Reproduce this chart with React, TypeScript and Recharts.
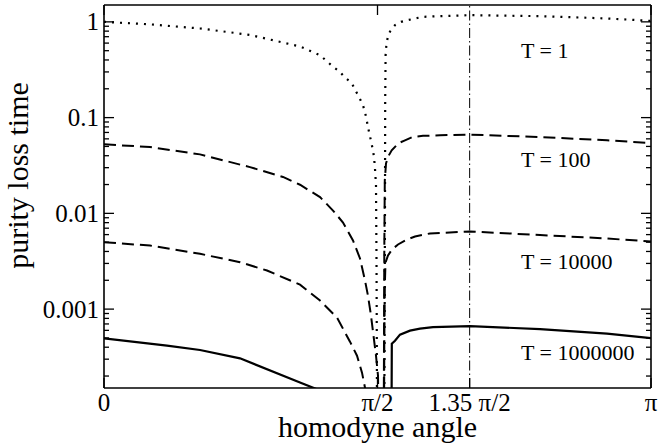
import React from "react";
import {
  ComposedChart,
  Line,
  Scatter,
  XAxis,
  YAxis,
  ReferenceLine,
  Label,
} from "recharts";

// ---- x axis (homodyne angle, radians) ----
const xTicks = [0, Math.PI / 2, 2.1, Math.PI];
const xTickLabels = ["0", "π/2", "1.35 π/2", "π"];
const xTopTicks = [0, Math.PI / 2, Math.PI];

// ---- y axis (log) ----
const yMajorTicks = [0.001, 0.01, 0.1, 1];
const yMajorLabels = ["0.001", "0.01", "0.1", "1"];
const yMinorTicks = [
  0.0002, 0.0003, 0.0004, 0.0005, 0.0006, 0.0007, 0.0008, 0.0009,
  0.002, 0.003, 0.004, 0.005, 0.006, 0.007, 0.008, 0.009,
  0.02, 0.03, 0.04, 0.05, 0.06, 0.07, 0.08, 0.09,
  0.2, 0.3, 0.4, 0.5, 0.6, 0.7, 0.8, 0.9,
];
const yDomain = [0.00015, 1.5];

// ---- T = 1 (dotted) ----
const t1Theta = [
  0, 0.2642, 0.5514, 0.8385, 1.1257, 1.2406, 1.3169, 1.3514, 1.3841, 1.4226,
  1.4416, 1.4663, 1.4858, 1.499, 1.5088, 1.518, 1.5277, 1.5375, 1.5467, 1.5524,
  1.5564, 1.5622, 1.5651, 1.5668, 1.5708, 1.6099, 1.6116, 1.6139, 1.615, 1.6173,
  1.6225, 1.6328, 1.6483, 1.6713, 1.7058, 1.7442, 1.7862, 1.8339, 1.9297, 2.102,
  2.5041, 2.8889, 3.1416,
];
const t1Val = [
  1.0, 0.942, 0.853, 0.731, 0.553, 0.449, 0.338, 0.305, 0.262, 0.23,
  0.196, 0.162, 0.137, 0.1146, 0.0938, 0.0767, 0.0638, 0.0526, 0.0437, 0.0357,
  0.0293, 0.0196, 0.00322, 0.000468, 0.000001, 0.0001, 0.000468, 0.0136, 0.152, 0.449,
  0.599, 0.726, 0.833, 0.924, 1.0, 1.042, 1.085, 1.128, 1.147, 1.175,
  1.147, 1.085, 1.024,
];

// ---- T = 100 (dashed) ----
const t100Theta = [
  0, 0.2642, 0.5514, 0.8385, 1.0281, 1.1257, 1.2406, 1.3152, 1.3726, 1.4301,
  1.4703, 1.499, 1.5162, 1.5335, 1.5478, 1.5622, 1.5737, 1.5909, 1.607, 1.6099,
  1.6127, 1.6196, 1.6328, 1.6524, 1.6903, 1.7287, 1.7747, 1.8321, 1.9297, 2.102,
  2.5041, 2.8889, 3.1416,
];
const t100Val = [
  0.0526, 0.0493, 0.0413, 0.0304, 0.024, 0.0199, 0.0148, 0.0107, 0.00803, 0.00521,
  0.00338, 0.00199, 0.00138, 0.000855, 0.000528, 0.000326, 0.000201, 0.000001, 0.0001, 0.0041,
  0.0221, 0.0333, 0.0394, 0.0455, 0.0539, 0.0579, 0.063, 0.0645, 0.0654, 0.0664,
  0.0627, 0.0579, 0.0542,
];

// ---- T = 10000 (dashed) ----
const t10kTheta = [
  0, 0.2642, 0.5514, 0.7811, 0.9362, 1.1257, 1.2406, 1.3382, 1.4128, 1.4531,
  1.4818, 1.499, 1.5392, 1.6053, 1.6099, 1.6127, 1.6168, 1.6311, 1.6541, 1.6886,
  1.7402, 1.7862, 1.8723, 2.102, 2.5041, 2.8889, 3.1416,
];
const t10kVal = [
  0.005, 0.00461, 0.00378, 0.00309, 0.00253, 0.0018, 0.00123, 0.000815, 0.000457, 0.000326,
  0.000217, 0.000151, 0.000001, 0.000001, 0.000468, 0.00176, 0.00306, 0.00363, 0.00419, 0.00473,
  0.00533, 0.00574, 0.00617, 0.00647, 0.00594, 0.00546, 0.00508,
];

// ---- T = 1000000 (solid) ----
const t1mTheta = [
  0, 0.3618, 0.5514, 0.7811, 1.1257, 1.3554, 1.5708, 1.6495, 1.653, 1.6713,
  1.7, 1.7574, 1.8149, 1.8895, 2.102, 2.5041, 2.8889, 3.1416,
];
const t1mVal = [
  0.000495, 0.000415, 0.000374, 0.000306, 0.000171, 0.000117, 0.000001, 0.00001, 0.000436, 0.000468,
  0.000541, 0.000596, 0.000625, 0.000648, 0.000664, 0.000618, 0.000554, 0.000497,
];

// ---- curve annotations ----
const annTheta = [2.395, 2.395, 2.395, 2.395];
const annVal = [0.422, 0.0302, 0.00265, 0.000296];
const annText = ["T = 1", "T = 100", "T = 10000", "T = 1000000"];

const rows = (xs: number[], ys: number[]) => xs.map((x, i) => ({ x, v: ys[i] }));
const t1Data = rows(t1Theta, t1Val);
const t100Data = rows(t100Theta, t100Val);
const t10kData = rows(t10kTheta, t10kVal);
const t1mData = rows(t1mTheta, t1mVal);
const annData = annTheta.map((x, i) => ({ x, v: annVal[i], label: annText[i] }));

const FONT = "'Liberation Serif', 'Times New Roman', Times, serif";
const INK = "#000";
const yAllTicks = [...yMinorTicks, ...yMajorTicks].sort((a, b) => a - b);

const majorIndex = (v: number) =>
  yMajorTicks.findIndex((t) => Math.abs(t - v) < t * 1e-6);

function LeftTick(props: any) {
  const { x, y, payload } = props;
  const mi = majorIndex(payload.value);
  const major = mi >= 0;
  return (
    <g>
      <line x1={x} y1={y} x2={x + (major ? 10 : 5)} y2={y} stroke={INK} strokeWidth={1.3} />
      {major && (
        <text x={x - 5} y={y} dy="0.34em" textAnchor="end" fontSize={25} fontFamily={FONT} fill={INK}>
          {yMajorLabels[mi]}
        </text>
      )}
    </g>
  );
}

function RightTick(props: any) {
  const { x, y, payload } = props;
  const major = majorIndex(payload.value) >= 0;
  return <line x1={x} y1={y} x2={x - (major ? 10 : 5)} y2={y} stroke={INK} strokeWidth={1.3} />;
}

function BottomTick(props: any) {
  const { x, y, payload } = props;
  const i = xTicks.findIndex((t) => Math.abs(t - payload.value) < 1e-9);
  return (
    <g>
      <line x1={x} y1={y} x2={x} y2={y - 10} stroke={INK} strokeWidth={1.3} />
      <text x={x} y={y + 23} textAnchor="middle" fontSize={25} fontFamily={FONT} fill={INK}>
        {i >= 0 ? xTickLabels[i] : ""}
      </text>
    </g>
  );
}

function TopTick(props: any) {
  const { x, y } = props;
  return <line x1={x} y1={y} x2={x} y2={y + 10} stroke={INK} strokeWidth={1.3} />;
}

function AnnShape(props: any) {
  const { cx, cy, payload } = props;
  return (
    <text x={cx} y={cy} textAnchor="start" fontSize={22} fontFamily={FONT} fill={INK}>
      {payload.label}
    </text>
  );
}

export default function App() {
  return (
    <div style={{ position: "absolute", left: 0, top: 0, width: 658, height: 444, background: "#fff" }}>
      <ComposedChart width={658} height={444} margin={{ top: 0, right: 0, bottom: 0, left: 0 }}>
        <XAxis
          xAxisId="b"
          type="number"
          dataKey="x"
          domain={[0, Math.PI]}
          allowDataOverflow
          ticks={xTicks}
          interval={0}
          height={56}
          tickSize={0}
          tickMargin={0}
          tickLine={false}
          tick={<BottomTick />}
          axisLine={{ stroke: INK, strokeWidth: 1.6 }}
        >
          <Label
            content={(p: any) => {
              const vb = p.viewBox;
              return (
                <text x={vb.x + vb.width / 2} y={vb.y + 49} textAnchor="middle" fontSize={30} fontFamily={FONT} fill={INK}>
                  homodyne angle
                </text>
              );
            }}
          />
        </XAxis>
        <XAxis
          xAxisId="t"
          orientation="top"
          type="number"
          dataKey="x"
          domain={[0, Math.PI]}
          allowDataOverflow
          ticks={xTopTicks}
          interval={0}
          height={5}
          tickSize={0}
          tickMargin={0}
          tickLine={false}
          tick={<TopTick />}
          axisLine={{ stroke: INK, strokeWidth: 1.6 }}
        />
        <YAxis
          yAxisId="l"
          type="number"
          scale="log"
          domain={yDomain}
          allowDataOverflow
          ticks={yAllTicks}
          interval={0}
          width={104}
          tickSize={0}
          tickMargin={0}
          tickLine={false}
          tick={<LeftTick />}
          axisLine={{ stroke: INK, strokeWidth: 1.6 }}
        >
          <Label
            content={(p: any) => {
              const vb = p.viewBox;
              const cx = vb.x + 28;
              const cy = vb.y + vb.height / 2 - 21;
              return (
                <text x={cx} y={cy} transform={`rotate(-90, ${cx}, ${cy})`} textAnchor="middle" fontSize={30} fontFamily={FONT} fill={INK}>
                  purity loss time
                </text>
              );
            }}
          />
        </YAxis>
        <YAxis
          yAxisId="r"
          orientation="right"
          type="number"
          scale="log"
          domain={yDomain}
          allowDataOverflow
          ticks={yAllTicks}
          interval={0}
          width={7}
          tickSize={0}
          tickMargin={0}
          tickLine={false}
          tick={<RightTick />}
          axisLine={{ stroke: INK, strokeWidth: 1.6 }}
        />
        <ReferenceLine
          xAxisId="b"
          yAxisId="l"
          x={2.1}
          stroke={INK}
          strokeWidth={1}
          strokeDasharray="10 3 1.5 3"
        />
        <Line xAxisId="b" yAxisId="l" data={t1Data} dataKey="v" type="linear" stroke={INK} strokeWidth={2.2} strokeDasharray="2 6" dot={false} isAnimationActive={false} />
        <Line xAxisId="b" yAxisId="l" data={t100Data} dataKey="v" type="linear" stroke={INK} strokeWidth={2} strokeDasharray="12 6" dot={false} isAnimationActive={false} />
        <Line xAxisId="b" yAxisId="l" data={t10kData} dataKey="v" type="linear" stroke={INK} strokeWidth={2} strokeDasharray="12 6" dot={false} isAnimationActive={false} />
        <Line xAxisId="b" yAxisId="l" data={t1mData} dataKey="v" type="linear" stroke={INK} strokeWidth={2.2} dot={false} isAnimationActive={false} />
        <Scatter xAxisId="b" yAxisId="l" data={annData} dataKey="v" shape={<AnnShape />} isAnimationActive={false} />
      </ComposedChart>
    </div>
  );
}
